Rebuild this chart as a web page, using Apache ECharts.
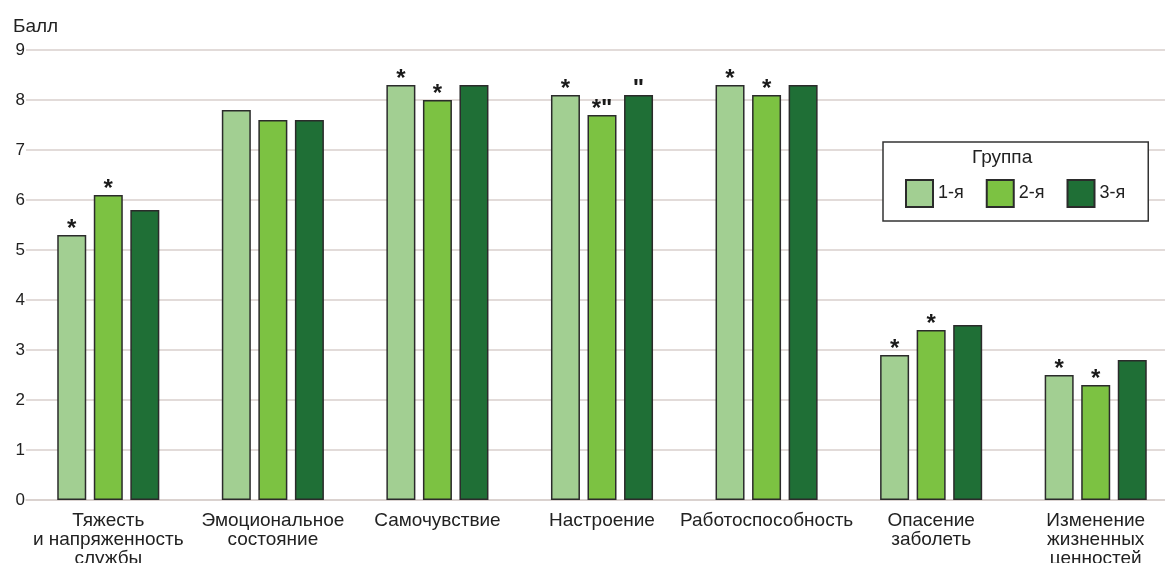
<!DOCTYPE html>
<html>
<head>
<meta charset="utf-8">
<script src="https://cdn.jsdelivr.net/npm/echarts@6/dist/echarts.min.js"></script>
<style>
  html, body { margin: 0; padding: 0; background: #ffffff; }
  #chart { width: 1165px; height: 563px; }
</style>
</head>
<body>
<div id="chart"></div>
<script>
// Scale categories (x axis)
const categories = [
  'Тяжесть\nи напряженность\nслужбы',
  'Эмоциональное\nсостояние',
  'Самочувствие',
  'Настроение',
  'Работоспособность',
  'Опасение\nзаболеть',
  'Изменение\nжизненных\nценностей'
];

// Mean scores per group
const group1 = [5.3, 7.8, 8.3, 8.1, 8.3, 2.9, 2.5];
const group2 = [6.1, 7.6, 8.0, 7.7, 8.1, 3.4, 2.3];
const group3 = [5.8, 7.6, 8.3, 8.1, 8.3, 3.5, 2.8];

// Significance marks above bars
const marks1 = ['*', '', '*', '*', '*', '*', '*'];
const marks2 = ['*', '', '*', '*"', '*', '*', '*'];
const marks3 = ['', '', '', '"', '', '', ''];

const groupNames = ['1-я', '2-я', '3-я'];
const colors = ['#a2cf92', '#7cc242', '#1f6f36'];

const yTicks = { min: 0, max: 9, interval: 1 };

const FONT = 'Liberation Sans, Arial, sans-serif';

function makeSeries(name, values, marks, color) {
  return {
    name: name,
    type: 'bar',
    barWidth: 29,
    barGap: '26%',
    data: values.map((v, i) => ({ value: v, mark: marks[i] })),
    itemStyle: { color: color, borderColor: '#2b2b2b', borderWidth: 1.5 },
    label: {
      show: true,
      position: 'top',
      distance: -6,
      formatter: p => p.data.mark,
      fontFamily: FONT,
      fontSize: 24,
      fontWeight: 'bold',
      color: '#1a1a1a'
    },
    emphasis: { disabled: true }
  };
}

const chart = echarts.init(document.getElementById('chart'), null, { renderer: 'canvas' });
chart.setOption({
  animation: false,
  backgroundColor: '#ffffff',
  textStyle: { fontFamily: FONT, color: '#222' },
  grid: { left: 26, right: -13, top: 50, bottom: 63, containLabel: false, outerBoundsMode: 'none' },
  legend: {
    left: 883,
    top: 142,
    orient: 'horizontal',
    data: groupNames,
    icon: 'rect',
    itemWidth: 27,
    itemHeight: 27,
    itemGap: 22,
    padding: [37, 23, 13, 22],
    backgroundColor: '#ffffff',
    borderColor: '#333333',
    borderWidth: 1.5,
    textStyle: { fontSize: 18, color: '#222', fontFamily: FONT }
  },
  graphic: [{
    type: 'text',
    left: 972,
    top: 148,
    z: 100,
    style: {
      text: 'Группа',
      fontSize: 19,
      fontFamily: FONT,
      fill: '#222'
    }
  }],
  xAxis: {
    type: 'category',
    data: categories,
    axisLine: { show: true, lineStyle: { color: '#d8cfcc', width: 1.5 } },
    axisTick: { show: false },
    axisLabel: {
      interval: 0,
      margin: 11,
      fontSize: 19,
      lineHeight: 19,
      color: '#222',
      fontFamily: FONT
    }
  },
  yAxis: {
    type: 'value',
    min: yTicks.min,
    max: yTicks.max,
    interval: yTicks.interval,
    name: 'Балл',
    nameLocation: 'end',
    nameGap: 14,
    nameTextStyle: { fontSize: 19, color: '#222', align: 'left', padding: [0, 0, 0, -13] },
    axisLine: { show: false },
    axisTick: { show: false },
    axisLabel: { margin: 1, fontSize: 17, color: '#222', fontFamily: FONT },
    splitLine: { show: true, lineStyle: { color: '#d8cfcc', width: 1.5 } }
  },
  series: [
    makeSeries(groupNames[0], group1, marks1, colors[0]),
    makeSeries(groupNames[1], group2, marks2, colors[1]),
    makeSeries(groupNames[2], group3, marks3, colors[2])
  ]
});
</script>
</body>
</html>
